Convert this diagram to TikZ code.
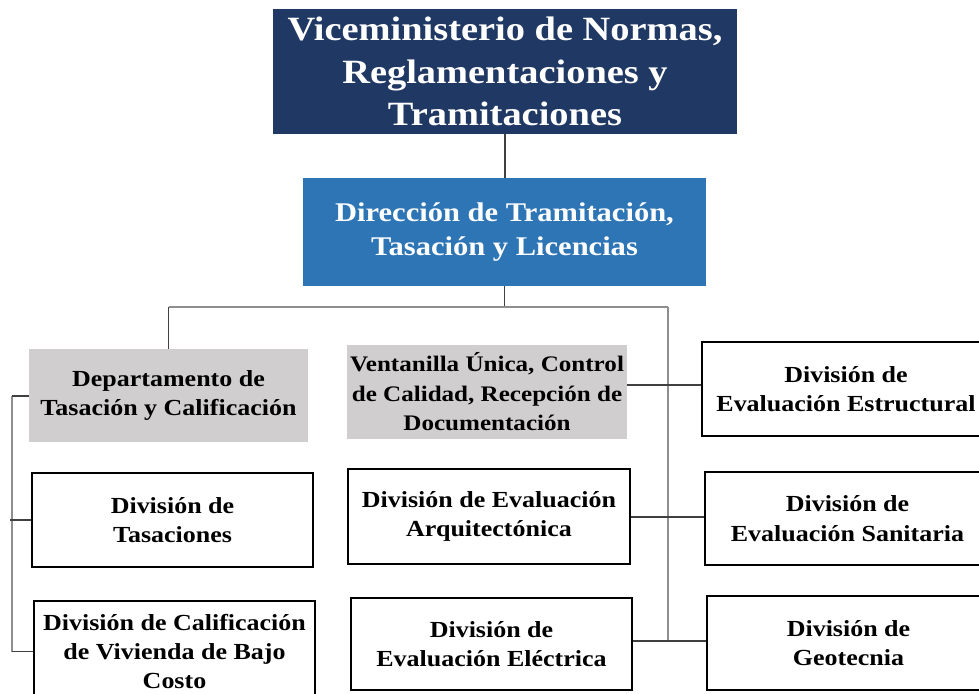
\documentclass[tikz,border=0pt]{standalone}
\usepackage{fontspec}
\setmainfont{Liberation Serif}[FakeStretch=1.13]
\definecolor{navy}{HTML}{203864}
\definecolor{midblue}{HTML}{2E75B6}
\definecolor{lightgray}{HTML}{D0CECE}
\definecolor{lightline}{HTML}{8E8E8E}
\definecolor{darkline}{HTML}{404040}
\tikzset{
  box/.style={draw=black, line width=1.6pt, fill=white, inner sep=0pt, align=center, font=\bfseries\fontsize{23}{29.5}\selectfont},
  graybox/.style={fill=lightgray, draw=none, inner sep=0pt, align=center, font=\bfseries\fontsize{23}{29.5}\selectfont},
  darkconn/.style={draw=darkline, line width=1.1pt},
  lightconn/.style={draw=lightline, line width=1.5pt},
}
\newcommand{\placebox}[7]{% name, style, x1, y1, x2, y2, text
  \node[#2, minimum width={(#5-#3)*1pt}, minimum height={(#6-#4)*1pt}] (#1) at ({(#3+#5)/2},{(#4+#6)/2}) {#7};}
\begin{document}
\begin{tikzpicture}[x=1pt,y=-1pt]
\useasboundingbox (0,0) rectangle (979,693);
\placebox{top}{fill=navy, draw=none, inner sep=0pt, align=center, text=white, font=\bfseries\fontsize{34}{42.5}\selectfont}{273}{9}{737}{134}{Viceministerio de Normas,\\Reglamentaciones y\\Tramitaciones}
\placebox{dir}{fill=midblue, draw=none, inner sep=0pt, align=center, text=white, font=\bfseries\fontsize{27}{34}\selectfont}{303}{178}{706}{286}{Dirección de Tramitación,\\Tasación y Licencias}
\placebox{dep}{graybox}{29}{349}{308}{442}{Departamento de\\Tasación y Calificación}
\placebox{vent}{graybox, font=\bfseries\fontsize{22.2}{29.5}\selectfont}{347}{345}{627}{439}{Ventanilla Única, Control\\de Calidad, Recepción de\\Documentación}
\placebox{estr}{box}{702}{342}{990}{436}{División de\\Evaluación Estructural}
\placebox{tas}{box}{32}{473}{313}{567}{División de\\Tasaciones}
\placebox{arq}{box}{348}{469}{630}{564}{División de Evaluación\\Arquitectónica}
\placebox{san}{box}{705}{472}{990}{565}{División de\\Evaluación Sanitaria}
\placebox{cal}{box, font=\bfseries\fontsize{23}{29}\selectfont}{34}{601}{315}{702}{División de Calificación\\de Vivienda de Bajo\\Costo}
\placebox{ele}{box}{351}{598}{632}{690}{División de\\Evaluación Eléctrica}
\placebox{geo}{box}{707}{596}{990}{690}{División de\\Geotecnia}
\coordinate (bus) at (dir.south |- 0,307);
\coordinate (busl) at (dep.north |- bus);
\coordinate (rv) at (668,641);
\coordinate (busr) at (rv |- bus);
\coordinate (lb) at (12,396);
% connectors
\draw[darkconn] (top.south) -- (top.south |- dir.north);
\draw[darkconn] (dir.south) -- (bus);
\draw[lightconn] (busl) -- (busr);
\draw[darkconn] (busl) -- (dep.north);
\draw[lightconn] (busr) -- (rv);
\draw[lightconn] (lb) -- (lb |- cal.west);
\draw[darkconn] (dep.west |- lb) -- (lb);
\draw[darkconn] (tas.west) -- (tas.west -| lb) -- ++(-2,0);
\draw[darkconn] (lb |- cal.west) -- (cal.west);
\draw[darkconn] (vent.east |- 0,385) -- (estr.west |- 0,385);
\draw[darkconn] (arq.east |- 0,517) -- (san.west |- 0,517);
\draw[darkconn] (ele.east |- rv) -- (geo.west |- rv);
\end{tikzpicture}
\end{document}
